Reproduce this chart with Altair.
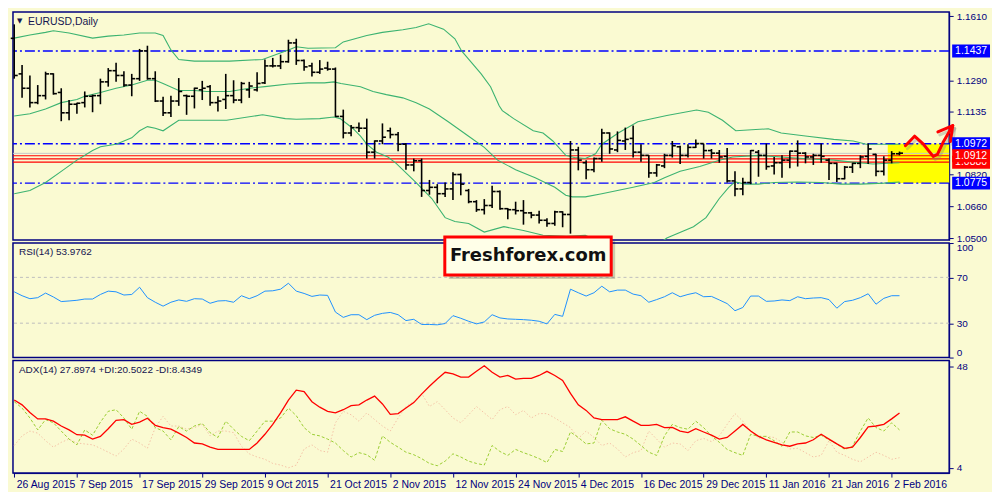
import altair as alt
import pandas as pd

# ---------------- data ----------------
date_labels = ['26 Aug 2015', '7 Sep 2015', '17 Sep 2015', '29 Sep 2015', '9 Oct 2015',
               '21 Oct 2015', '2 Nov 2015', '12 Nov 2015', '24 Nov 2015', '4 Dec 2015',
               '16 Dec 2015', '29 Dec 2015', '11 Jan 2016', '21 Jan 2016', '2 Feb 2016']

opens = [1.1500, 1.1322, 1.1250, 1.1178, 1.1213, 1.1322, 1.1229, 1.1127, 1.1170, 1.1178,
         1.1210, 1.1213, 1.1282, 1.1338, 1.1314, 1.1266, 1.1298, 1.1437, 1.1298, 1.1186,
         1.1127, 1.1186, 1.1213, 1.1210, 1.1242, 1.1258, 1.1178, 1.1194, 1.1213, 1.1191,
         1.1242, 1.1242, 1.1277, 1.1362, 1.1362, 1.1383, 1.1477, 1.1389, 1.1362, 1.1330,
         1.1351, 1.1346, 1.1109, 1.1026, 1.1053, 1.1050, 1.0930, 1.0986, 1.1037, 1.1018,
         1.0970, 1.0866, 1.0887, 1.0738, 1.0754, 1.0722, 1.0746, 1.0818, 1.0738, 1.0682,
         1.0642, 1.0663, 1.0733, 1.0647, 1.0642, 1.0637, 1.0626, 1.0615, 1.0589, 1.0573,
         1.0631, 1.0618, 1.0941, 1.0877, 1.0842, 1.0898, 1.1026, 1.0941, 1.0986, 1.0999,
         1.0930, 1.0914, 1.0826, 1.0861, 1.0914, 1.0957, 1.0914, 1.0954, 1.0973, 1.0938,
         1.0925, 1.0909, 1.0786, 1.0746, 1.0778, 1.0930, 1.0914, 1.0861, 1.0877, 1.0890,
         1.0935, 1.0925, 1.0906, 1.0914, 1.0890, 1.0874, 1.0797, 1.0855, 1.0874, 1.0909,
         1.0919, 1.0834, 1.0890, 1.0922]
highs = [1.1570, 1.1367, 1.1314, 1.1266, 1.1333, 1.1325, 1.1250, 1.1191, 1.1178, 1.1234,
         1.1218, 1.1298, 1.1351, 1.1378, 1.1335, 1.1322, 1.1447, 1.1463, 1.1335, 1.1207,
         1.1213, 1.1301, 1.1218, 1.1253, 1.1287, 1.1266, 1.1210, 1.1322, 1.1290, 1.1282,
         1.1282, 1.1330, 1.1394, 1.1402, 1.1418, 1.1493, 1.1498, 1.1394, 1.1378, 1.1391,
         1.1383, 1.1354, 1.1143, 1.1066, 1.1079, 1.1098, 1.0989, 1.1074, 1.1053, 1.1031,
         1.0975, 1.0898, 1.0898, 1.0791, 1.0770, 1.0778, 1.0829, 1.0823, 1.0746, 1.0690,
         1.0695, 1.0762, 1.0738, 1.0650, 1.0682, 1.0690, 1.0631, 1.0637, 1.0599, 1.0637,
         1.0634, 1.0986, 1.0957, 1.0890, 1.0903, 1.1047, 1.1029, 1.1034, 1.1053, 1.1063,
         1.0970, 1.0914, 1.0871, 1.0922, 1.0986, 1.0962, 1.0970, 1.0994, 1.0973, 1.0946,
         1.0941, 1.0951, 1.0834, 1.0802, 1.0941, 1.0941, 1.0973, 1.0906, 1.0914, 1.0938,
         1.0989, 1.0930, 1.0922, 1.0973, 1.0898, 1.0877, 1.0861, 1.0877, 1.0914, 1.0973,
         1.0922, 1.0909, 1.0935, 1.0933]
lows = [1.1298, 1.1202, 1.1154, 1.1170, 1.1194, 1.1218, 1.1085, 1.1090, 1.1122, 1.1154,
        1.1130, 1.1170, 1.1258, 1.1282, 1.1258, 1.1210, 1.1287, 1.1293, 1.1181, 1.1111,
        1.1106, 1.1162, 1.1117, 1.1149, 1.1191, 1.1162, 1.1133, 1.1146, 1.1175, 1.1175,
        1.1202, 1.1234, 1.1271, 1.1354, 1.1346, 1.1378, 1.1367, 1.1338, 1.1309, 1.1322,
        1.1338, 1.1106, 1.0999, 1.1010, 1.1031, 1.0898, 1.0898, 1.0970, 1.0999, 1.0935,
        1.0842, 1.0834, 1.0706, 1.0717, 1.0674, 1.0706, 1.0690, 1.0714, 1.0674, 1.0631,
        1.0618, 1.0650, 1.0642, 1.0594, 1.0618, 1.0567, 1.0599, 1.0573, 1.0557, 1.0562,
        1.0554, 1.0522, 1.0839, 1.0794, 1.0829, 1.0882, 1.0922, 1.0930, 1.0941, 1.0903,
        1.0882, 1.0802, 1.0807, 1.0850, 1.0903, 1.0871, 1.0903, 1.0951, 1.0898, 1.0898,
        1.0877, 1.0778, 1.0709, 1.0714, 1.0770, 1.0807, 1.0842, 1.0818, 1.0802, 1.0850,
        1.0858, 1.0874, 1.0866, 1.0877, 1.0791, 1.0781, 1.0794, 1.0826, 1.0850, 1.0871,
        1.0810, 1.0813, 1.0874, 1.0914]
closes = [1.1314, 1.1250, 1.1178, 1.1213, 1.1322, 1.1223, 1.1127, 1.1170, 1.1175, 1.1210,
          1.1213, 1.1282, 1.1338, 1.1314, 1.1266, 1.1298, 1.1437, 1.1298, 1.1186, 1.1127,
          1.1186, 1.1234, 1.1210, 1.1250, 1.1250, 1.1178, 1.1186, 1.1213, 1.1191, 1.1274,
          1.1261, 1.1274, 1.1362, 1.1362, 1.1383, 1.1477, 1.1389, 1.1357, 1.1330, 1.1346,
          1.1346, 1.1109, 1.1026, 1.1053, 1.1050, 1.0930, 1.0986, 1.1005, 1.1018, 1.0970,
          1.0866, 1.0887, 1.0738, 1.0754, 1.0722, 1.0746, 1.0818, 1.0770, 1.0682, 1.0642,
          1.0663, 1.0733, 1.0647, 1.0642, 1.0637, 1.0626, 1.0615, 1.0589, 1.0573, 1.0631,
          1.0618, 1.0941, 1.0890, 1.0842, 1.0898, 1.1026, 1.0946, 1.0989, 1.0994, 1.0930,
          1.0914, 1.0826, 1.0866, 1.0914, 1.0962, 1.0914, 1.0954, 1.0973, 1.0938, 1.0925,
          1.0906, 1.0786, 1.0746, 1.0778, 1.0938, 1.0914, 1.0858, 1.0877, 1.0890, 1.0935,
          1.0925, 1.0906, 1.0914, 1.0909, 1.0874, 1.0797, 1.0855, 1.0874, 1.0906, 1.0946,
          1.0834, 1.0890, 1.0922, 1.0925]

# Bollinger bands (bar position, price)
up_i = [0, 2, 4, 5, 7, 10, 12, 14, 16, 18, 19, 20, 21, 23, 27.5, 31.7, 35, 36, 37.5, 41, 42, 45, 47,
        49.6, 51.3, 52.9, 54.8, 56.25, 57.1, 59.6, 60.8, 61.9, 62.3, 63.75, 66.25, 67.5, 68.75, 70.4,
        71.5, 72.9, 74.2, 75, 77.1, 79.6, 83.3, 87.1, 88.6, 90.4, 92.1, 96.25, 97.9, 101.25, 104.6,
        107.1, 108.75, 112, 113]
up_p = [1.1501, 1.1517, 1.1530, 1.1538, 1.1527, 1.1501, 1.1511, 1.1517, 1.1527, 1.1527, 1.1514,
        1.1442, 1.1394, 1.1386, 1.1386, 1.1394, 1.1442, 1.1458, 1.1450, 1.1453, 1.1482, 1.1514,
        1.1530, 1.1543, 1.1554, 1.1573, 1.1546, 1.1498, 1.1437, 1.1322, 1.1258, 1.1162, 1.1138,
        1.1098, 1.1037, 1.1026, 1.0986, 1.0914, 1.0903, 1.0898, 1.0922, 1.0970, 1.1026, 1.1082,
        1.1114, 1.1141, 1.1130, 1.1090, 1.1037, 1.1047, 1.1026, 1.1010, 1.0994, 1.0986, 1.0970,
        1.0970, 1.0970]
mid_i = [0, 2, 4, 6, 8, 9, 11, 13, 15, 17, 18, 19, 21, 23, 24.6, 27.5, 30, 32, 35, 37.5, 39.6, 40.8,
         41.7, 44.2, 45.8, 47.5, 49.6, 51.3, 53, 55.4, 58, 60, 61.7, 64, 66.5, 69, 70.4, 71.25, 72.9,
         75, 79, 81.7, 83, 85, 87.5, 90, 91.7, 95, 98.8, 101.7, 104.6, 107, 109.6, 113]
mid_p = [1.1111, 1.1122, 1.1146, 1.1178, 1.1194, 1.1210, 1.1229, 1.1250, 1.1266, 1.1290, 1.1290,
         1.1274, 1.1239, 1.1239, 1.1234, 1.1234, 1.1250, 1.1258, 1.1271, 1.1277, 1.1277, 1.1282,
         1.1274, 1.1258, 1.1234, 1.1218, 1.1202, 1.1178, 1.1146, 1.1082, 1.1010, 1.0954, 1.0890,
         1.0842, 1.0802, 1.0754, 1.0714, 1.0706, 1.0706, 1.0722, 1.0754, 1.0778, 1.0802, 1.0834,
         1.0858, 1.0890, 1.0906, 1.0914, 1.0903, 1.0896, 1.0890, 1.0880, 1.0871, 1.0877]
lo_i = [0, 2, 4, 6, 8, 10, 11, 13, 15, 16, 17, 18, 19, 21, 23, 27.1, 31.7, 34.6, 36, 39, 40.8, 41.6,
        43.2, 44.2, 45, 46.25, 47.7, 48.75, 51.3, 53.3, 55, 56.25, 58, 60, 62.5, 65, 67.5, 70.5, 72.9,
        75, 77, 79.6, 81.7, 83.3, 86.7, 88.3, 90, 91.2, 92, 93.3, 95, 97, 100, 103, 105.5, 108, 111, 113]
lo_p = [1.0722, 1.0738, 1.0778, 1.0834, 1.0890, 1.0938, 1.0957, 1.0970, 1.1002, 1.1037, 1.1058,
        1.1050, 1.1037, 1.1090, 1.1090, 1.1090, 1.1117, 1.1098, 1.1095, 1.1098, 1.1106, 1.1098,
        1.1050, 1.1010, 1.0970, 1.0930, 1.0906, 1.0874, 1.0778, 1.0698, 1.0602, 1.0583, 1.0573,
        1.0530, 1.0557, 1.0538, 1.0514, 1.0509, 1.0514, 1.0474, 1.0450, 1.0436, 1.0455, 1.0500,
        1.0557, 1.0602, 1.0698, 1.0754, 1.0781, 1.0770, 1.0770, 1.0778, 1.0781, 1.0778, 1.0770,
        1.0770, 1.0775, 1.0781]

rsi = [57.4, 54.0, 51.4, 52.3, 56.3, 52.9, 48.9, 49.4, 50.0, 51.1,
       51.1, 55.1, 58.0, 57.4, 54.6, 55.1, 61.4, 52.3, 48.3, 44.9,
       48.3, 50.3, 49.1, 51.4, 51.1, 47.4, 49.4, 49.7, 48.3, 54.0,
       51.4, 54.0, 58.0, 58.3, 59.7, 64.9, 58.0, 56.0, 53.4, 54.6,
       54.3, 39.7, 35.1, 37.4, 37.4, 33.1, 36.9, 38.6, 39.4, 37.4,
       32.3, 33.4, 28.9, 28.9, 28.6, 29.7, 36.6, 34.3, 31.7, 29.4,
       31.1, 37.4, 34.6, 33.7, 33.4, 33.1, 32.6, 31.7, 29.4, 37.7,
       36.0, 59.7, 56.6, 53.7, 56.6, 62.3, 57.4, 58.9, 58.9, 55.4,
       54.0, 48.3, 50.6, 53.1, 56.6, 53.1, 55.1, 56.6, 53.1, 53.4,
       50.3, 47.1, 40.9, 43.7, 53.7, 53.7, 49.1, 49.4, 50.3, 49.7,
       53.1, 51.4, 52.0, 52.3, 50.6, 43.1, 48.9, 50.0, 52.3, 55.7,
       46.6, 51.7, 54.0, 54.0]

adx = [33.5, 31.4, 28.1, 25.3, 25.3, 24.3, 22.2, 20.5, 18.4, 18.2,
       16.5, 17.7, 21.0, 24.7, 25.0, 22.9, 23.9, 25.6, 22.5, 21.5,
       20.8, 19.1, 17.2, 14.8, 14.4, 13.0, 12.0, 12.0, 12.0, 12.0,
       12.0, 14.8, 18.6, 22.9, 27.9, 33.5, 37.8, 37.2, 32.8, 30.4,
       28.6, 27.9, 29.3, 31.1, 31.4, 33.5, 35.2, 31.8, 27.3, 27.6,
       30.0, 32.4, 36.1, 39.5, 42.7, 45.6, 44.9, 43.5, 43.5, 46.0,
       48.4, 45.6, 43.5, 44.2, 42.6, 42.9, 42.9, 44.2, 46.0, 44.2,
       42.0, 36.4, 31.4, 29.0, 25.7, 25.0, 25.0, 25.0, 26.2, 24.3,
       22.5, 22.5, 22.9, 21.5, 21.6, 20.0, 19.3, 21.0, 19.6, 18.2,
       16.5, 17.2, 20.0, 22.9, 20.0, 17.7, 16.2, 15.1, 14.0, 13.4,
       14.4, 14.8, 16.2, 18.6, 16.5, 14.4, 12.5, 13.0, 17.2, 21.8,
       22.2, 22.9, 25.3, 27.9]
plus_di = [32.8, 30.0, 25.7, 20.5, 25.0, 23.6, 20.0, 16.5, 14.0, 20.5,
           18.2, 23.9, 28.6, 29.3, 25.7, 20.8, 28.6, 26.4, 21.5, 20.0,
           16.2, 21.9, 20.0, 22.2, 23.3, 19.3, 17.2, 24.3, 20.8, 17.7,
           15.8, 20.0, 24.3, 24.3, 25.7, 30.0, 26.7, 21.5, 18.6, 17.9,
           16.5, 14.8, 11.5, 8.7, 10.6, 9.7, 7.3, 17.9, 15.1, 13.0,
           10.8, 9.7, 8.0, 5.9, 4.9, 6.9, 10.1, 8.7, 6.9, 5.9,
           5.2, 13.7, 11.1, 9.4, 12.0, 10.6, 9.4, 8.0, 6.3, 12.0,
           11.1, 19.6, 17.2, 14.4, 14.8, 24.7, 21.0, 19.6, 18.6, 16.5,
           13.7, 10.8, 9.4, 17.9, 22.9, 21.5, 20.8, 24.3, 21.5, 17.9,
           15.1, 12.0, 10.6, 9.4, 18.6, 17.7, 17.7, 15.8, 13.4, 19.6,
           19.6, 17.9, 17.2, 18.2, 16.2, 14.4, 12.0, 13.4, 20.0, 25.7,
           21.5, 20.0, 23.6, 20.5]
minus_di = [13.7, 17.9, 20.0, 19.1, 15.8, 13.0, 15.1, 16.5, 14.8, 14.4,
            14.0, 12.5, 10.8, 9.1, 12.2, 16.5, 14.8, 12.5, 21.5, 26.4,
            22.2, 22.2, 20.8, 21.5, 22.9, 17.9, 20.0, 20.0, 19.3, 13.4,
            10.1, 8.7, 7.7, 5.9, 5.2, 4.0, 5.2, 12.2, 14.0, 11.5,
            10.8, 23.6, 28.6, 27.1, 24.3, 27.9, 25.0, 22.2, 20.0, 25.7,
            30.7, 32.8, 36.4, 30.7, 32.8, 29.3, 25.7, 23.6, 27.1, 30.7,
            27.9, 25.0, 29.3, 30.7, 27.1, 29.0, 25.7, 27.6, 27.6, 25.7,
            23.6, 21.5, 16.8, 20.0, 17.2, 13.7, 14.8, 12.2, 8.7, 10.6,
            11.5, 20.0, 16.5, 13.0, 14.8, 14.4, 11.5, 15.8, 16.8, 15.4,
            17.9, 22.9, 27.6, 24.3, 20.0, 16.8, 17.7, 17.2, 15.1, 12.2,
            12.5, 10.6, 8.7, 9.4, 15.8, 10.8, 9.4, 7.7, 6.6, 8.7,
            10.8, 9.4, 7.7, 8.4]

blue_levels = [1.1437, 1.0972, 1.0775]
red_levels = [1.0912, 1.0896, 1.0880]
bid_level = [1.0924]
price_ticks = [1.0500, 1.0660, 1.0820, 1.1135, 1.1290, 1.1610]
marker_vals = [1.1437, 1.0972, 1.0880, 1.0912, 1.0775]
marker_cols = ['#0000FF', '#0000FF', '#FF0000', '#FF0000', '#0000FF']

zone_i = [111.5, 119.34]
zone_p = [1.0775, 1.0972]

arrow_seg = [0, 0, 0, 0, 0, 0, 0, 1, 1, 1]
arrow_i = [113.75, 114.92, 116.05, 117.3, 117.84, 118.55, 119.8, 117.9, 119.8, 119.5]
arrow_p = [1.0962, 1.1010, 1.0970, 1.0909, 1.0919, 1.0978, 1.1063, 1.1031, 1.1063, 1.0983]

ff_i = [54.96, 76.2]
ff_y = [72.0, 105.3]
ff_text_pos = [65.6, 88.5]

# ---------------- styling ----------------
BG = '#FAFAD2'
NAVY = '#000080'
FONT = 'Liberation Sans'
W = 940
H1, H2, H3 = 229, 115, 113

xs = alt.Scale(domain=[-0.16, 119.34], nice=False, zero=False)
ps = alt.Scale(domain=[1.0490, 1.1632], nice=False, zero=False)
rs = alt.Scale(domain=[0, 100], nice=False, zero=False)
ads = alt.Scale(domain=[1.7, 50.7], nice=False, zero=False)


def yaxis(values, fmt):
    return alt.Axis(orient='right', values=values, format=fmt, title=None, grid=False,
                    labelColor=NAVY, tickColor=NAVY, domainColor=NAVY, labelFont=FONT,
                    labelFontSize=10, tickSize=4, labelPadding=3, labelFlush=True)


pax = yaxis(price_ticks, '.4f')
X = alt.X('i:Q', scale=xs, axis=None)

# ---------------- price panel ----------------
bars = pd.DataFrame({'i': list(range(len(opens))), 'o': opens, 'h': highs, 'l': lows, 'c': closes})
zone = pd.DataFrame({'x1': [zone_i[0]], 'x2': [zone_i[1]], 'y1': [zone_p[0]], 'y2': [zone_p[1]]})

yellow = alt.Chart(zone).mark_rect(color='#FFFF00').encode(
    x=alt.X('x1:Q', scale=xs, axis=None), x2='x2:Q',
    y=alt.Y('y1:Q', scale=ps, axis=pax), y2='y2:Q')

bid = alt.Chart(pd.DataFrame({'v': bid_level})).mark_rule(color='#C8C8C8', strokeWidth=1).encode(
    y=alt.Y('v:Q', scale=ps, axis=pax))
reds = alt.Chart(pd.DataFrame({'v': red_levels})).mark_rule(color='#FF0000', strokeWidth=1.2).encode(
    y=alt.Y('v:Q', scale=ps, axis=pax))
blues = alt.Chart(pd.DataFrame({'v': blue_levels})).mark_rule(
    color='#0000FF', strokeWidth=1.5, strokeDash=[10, 3, 2, 3]).encode(y=alt.Y('v:Q', scale=ps, axis=pax))


def band(ii, pp):
    return alt.Chart(pd.DataFrame({'i': ii, 'p': pp})).mark_line(
        color='#3CB371', strokeWidth=1.1, clip=True).encode(x=X, y=alt.Y('p:Q', scale=ps, axis=pax))


wick = alt.Chart(bars).mark_rule(color='black', strokeWidth=1.6).encode(
    x=X, y=alt.Y('l:Q', scale=ps, axis=pax), y2='h:Q')
otick = alt.Chart(bars).mark_rule(color='black', strokeWidth=1.6, xOffset=-3.5).encode(
    x=X, x2='i:Q', y=alt.Y('o:Q', scale=ps, axis=pax))
ctick = alt.Chart(bars).mark_rule(color='black', strokeWidth=1.6, x2Offset=3.5).encode(
    x=X, x2='i:Q', y=alt.Y('c:Q', scale=ps, axis=pax))

arrow_df = pd.DataFrame({'seg': arrow_seg, 'ord': list(range(len(arrow_i))), 'i': arrow_i, 'p': arrow_p})
arrow_shadow = alt.Chart(arrow_df).mark_line(color='#808080', opacity=0.35, strokeWidth=3,
                                             xOffset=2, yOffset=3, strokeCap='round', strokeJoin='round').encode(
    x=X, y=alt.Y('p:Q', scale=ps, axis=pax), detail='seg:N', order='ord:Q')
arrow = alt.Chart(arrow_df).mark_line(color='#FF0000', strokeWidth=3, strokeCap='round',
                                      strokeJoin='round').encode(
    x=X, y=alt.Y('p:Q', scale=ps, axis=pax), detail='seg:N', order='ord:Q')

tri = alt.Chart(pd.DataFrame({'t': ['▼']})).mark_text(
    font='DejaVu Sans', fontSize=7, color='#141450', align='left', baseline='middle').encode(
    x=alt.value(4), y=alt.value(9), text='t:N')
title_p = alt.Chart(pd.DataFrame({'t': ['EURUSD,Daily']})).mark_text(
    font=FONT, fontSize=10.5, color='#141450', align='left', baseline='middle').encode(
    x=alt.value(15), y=alt.value(10), text='t:N')

markers = []
for v, col in zip(marker_vals, marker_cols):
    d = pd.DataFrame({'v': [v], 'c': [col], 't': ['%.4f' % v]})
    box = alt.Chart(d).mark_rect(yOffset=-6.5, y2Offset=6.5).encode(
        x=alt.value(W + 3), x2=alt.value(W + 41),
        y=alt.Y('v:Q', scale=ps, axis=pax), y2='v:Q',
        color=alt.Color('c:N', scale=None))
    txt = alt.Chart(d).mark_text(font=FONT, fontSize=10.5, color='white', align='center',
                                 baseline='middle').encode(
        x=alt.value(W + 22), y=alt.Y('v:Q', scale=ps, axis=pax), text='t:N')
    markers += [box, txt]

price = alt.layer(yellow, bid, reds, blues, band(up_i, up_p), band(mid_i, mid_p), band(lo_i, lo_p),
                  wick, otick, ctick, arrow_shadow, arrow, tri, title_p, *markers).properties(
    width=W, height=H1)

# ---------------- RSI panel ----------------
rsi_df = pd.DataFrame({'i': list(range(len(rsi))), 'v': rsi})
rax = yaxis([0, 30, 70, 100], 'd')
rsi_levels = alt.Chart(pd.DataFrame({'v': [30, 70]})).mark_rule(
    color='#BDBDBD', strokeDash=[3, 3], strokeWidth=1).encode(y=alt.Y('v:Q', scale=rs, axis=rax))
rsi_line = alt.Chart(rsi_df).mark_line(color='#1E90FF', strokeWidth=1).encode(
    x=X, y=alt.Y('v:Q', scale=rs, axis=rax))
rsi_title = alt.Chart(pd.DataFrame({'t': ['RSI(14) 53.9762']})).mark_text(
    font=FONT, fontSize=10, color='#141450', align='left', baseline='middle').encode(
    x=alt.value(6), y=alt.value(9), text='t:N')

ff = pd.DataFrame({'x1': [ff_i[0]], 'x2': [ff_i[1]], 'y1': [ff_y[0]], 'y2': [ff_y[1]]})
ff_shadow = alt.Chart(ff).mark_rect(color='#000000', opacity=0.18, xOffset=4, x2Offset=4,
                                    yOffset=4, y2Offset=4).encode(
    x=alt.X('x1:Q', scale=xs, axis=None), x2='x2:Q', y=alt.Y('y1:Q', scale=rs, axis=rax), y2='y2:Q')
ff_box = alt.Chart(ff).mark_rect(fill='#FFFFE8', stroke='#FF0000', strokeWidth=3).encode(
    x=alt.X('x1:Q', scale=xs, axis=None), x2='x2:Q', y=alt.Y('y1:Q', scale=rs, axis=rax), y2='y2:Q')
ff_txt = alt.Chart(pd.DataFrame({'i': [ff_text_pos[0]], 'v': [ff_text_pos[1]], 't': ['Freshforex.com']})).mark_text(
    font='DejaVu Sans', fontSize=18, fontWeight='bold', color='#111111', align='center',
    baseline='middle').encode(x=X, y=alt.Y('v:Q', scale=rs, axis=rax), text='t:N')

rsi_panel = alt.layer(rsi_levels, rsi_line, rsi_title, ff_shadow, ff_box, ff_txt).properties(
    width=W, height=H2)

# ---------------- ADX panel ----------------
adx_df = pd.DataFrame({'i': list(range(len(adx))), 'adx': adx, 'pdi': plus_di, 'mdi': minus_di})
aax = yaxis([4, 48], 'd')
label_expr = '[' + ','.join("'%s'" % d for d in date_labels) + '][round(datum.value / 8)]'
xaxis = alt.Axis(values=list(range(0, 8 * len(date_labels), 8)), labelExpr=label_expr,
                 labelAlign='left', labelBaseline='top', labelPadding=2, labelOffset=2,
                 tickSize=4, labelFlush=False, labelOverlap=False, labelColor=NAVY,
                 tickColor=NAVY, domainColor=NAVY, labelFont=FONT, labelFontSize=10.5,
                 grid=False, title=None)
XA = alt.X('i:Q', scale=xs, axis=xaxis)

mdi_line = alt.Chart(adx_df).mark_line(color='#F4C3A6', strokeWidth=1, strokeDash=[1.5, 2]).encode(
    x=XA, y=alt.Y('mdi:Q', scale=ads, axis=aax))
pdi_line = alt.Chart(adx_df).mark_line(color='#9ACD32', strokeWidth=1, strokeDash=[3, 2]).encode(
    x=XA, y=alt.Y('pdi:Q', scale=ads, axis=aax))
adx_line = alt.Chart(adx_df).mark_line(color='#FF0000', strokeWidth=1.3).encode(
    x=XA, y=alt.Y('adx:Q', scale=ads, axis=aax))
adx_title = alt.Chart(pd.DataFrame({'t': ['ADX(14) 27.8974 +DI:20.5022 -DI:8.4349']})).mark_text(
    font=FONT, fontSize=10, color='#141450', align='left', baseline='middle').encode(
    x=alt.value(6), y=alt.value(10), text='t:N')

adx_panel = alt.layer(mdi_line, pdi_line, adx_line, adx_title).properties(width=W, height=H3)

chart = alt.vconcat(price, rsi_panel, adx_panel, spacing=3, bounds='flush').properties(
    background=BG, padding={'left': 1, 'top': 1, 'right': 1, 'bottom': 0}
).configure_view(stroke=NAVY, strokeWidth=1.5, fill=BG)

chart.save('out.html', embed_options={'renderer': 'svg', 'actions': False})
